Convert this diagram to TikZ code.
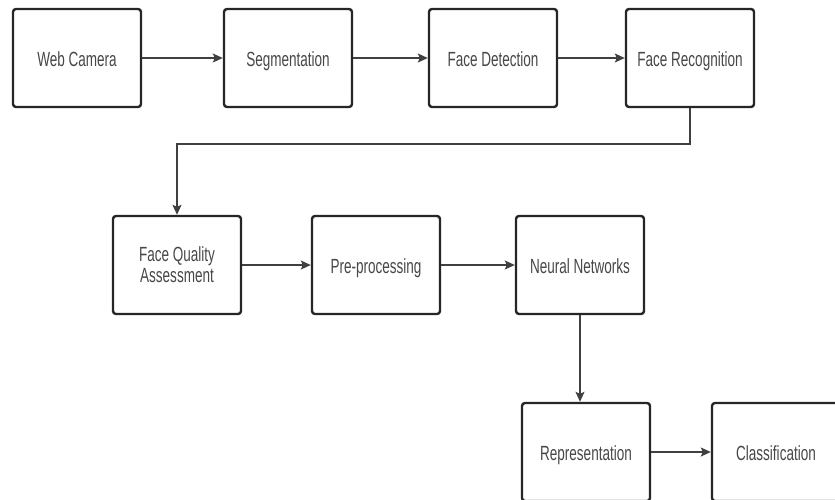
\documentclass[tikz,border=0pt]{standalone}
\usepackage{fontspec}
\setmainfont{Liberation Sans}[FakeStretch=0.66]
\usetikzlibrary{positioning,arrows.meta}

\begin{document}
\begin{tikzpicture}[x=1pt,y=-1pt,
  stage/.style={draw=black!85,line width=2.4pt,rounded corners=3pt,
    minimum width=128pt,minimum height=98pt,align=center,
    text height=16pt,text depth=0pt,
    text=black!72,font=\fontsize{20.5}{21}\selectfont},
  flow/.style={draw=black!75,line width=1.3pt,
    -{Stealth[length=10pt,width=9pt,inset=2pt]}}]
\useasboundingbox (0,0) rectangle (835,499);
%% First row
\node[stage] (webcam) at (77,58) {Web Camera};
\node[stage] (segment) at (288,58) {Segmentation};
\node[stage] (detect) at (493,58) {Face Detection};
\node[stage] (recog) at (690,58) {Face Recognition};
%% Second row
\node[stage,text height=,text depth=] (quality) at (177,265) {Face Quality\\Assessment};
\node[stage] (preproc) at (376,265) {Pre-processing};
\node[stage] (neural) at (580,265) {Neural Networks};
%% Third row, cut off by the page
\node[stage] (repr) at (586,452) {Representation};
\node[stage] (classif) at (776,452) {Classification};
%% Connectors
\draw[flow] (webcam) -- (segment);
\draw[flow] (segment) -- (detect);
\draw[flow] (detect) -- (recog);
\coordinate (turn) at (0,144);
\draw[flow] (recog.south) |- (turn -| quality) -- (quality.north);
\draw[flow] (quality) -- (preproc);
\draw[flow] (preproc) -- (neural);
\draw[flow] (neural.south) -- (neural.south |- repr.north);
\draw[flow] (repr) -- (classif);
\end{tikzpicture}
\end{document}
